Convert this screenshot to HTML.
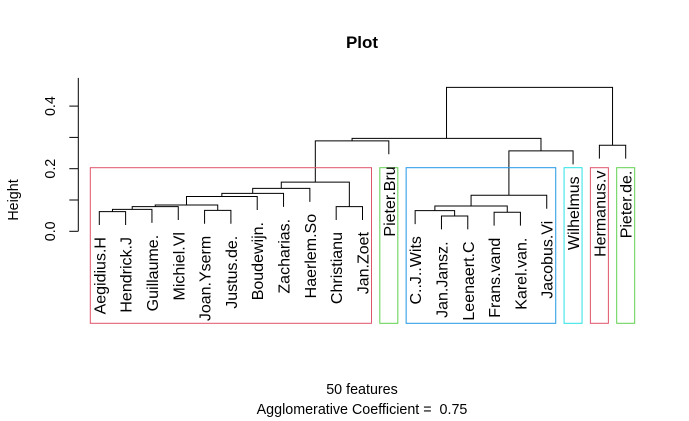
<!DOCTYPE html>
<html><head><meta charset="utf-8"><style>
html,body{margin:0;padding:0;background:#fff;}
svg{display:block;font-family:"Liberation Sans",Arial,sans-serif;}
</style></head><body>
<svg id="chart" width="689" height="421" viewBox="0 0 689 421">
<text x="362" y="48" text-anchor="middle" font-weight="bold" font-size="17">Plot</text>
<g id="axis"></g>
<text transform="translate(18,200) rotate(-90)" text-anchor="middle" font-size="14.3">Height</text>
<g id="tree"></g>
<g id="boxes"></g>
<g id="labels"></g>
<text x="362" y="394" text-anchor="middle" font-size="14.3">50 features</text>
<text x="362" y="414" text-anchor="middle" font-size="14.3" style="white-space:pre">Agglomerative Coefficient =&#160; 0.75</text>
</svg>
<script>
const leaves = ["Aegidius.H","Hendrick.J","Guillaume.","Michiel.Vl","Joan.Yserm","Justus.de.","Boudewijn.","Zacharias.","Haerlem.So","Christianu","Jan.Zoet","Pieter.Bru","C..J..Wits","Jan.Jansz.","Leenaert.C","Frans.vand","Karel.van.","Jacobus.Vi","Wilhelmus","Hermanus.v","Pieter.de."];
// merges: [left, right, height]; negative = leaf index (-(i+1)), positive = merge number (1-based)
const merges = [
 [-1,-2,0.063],[1,-3,0.070],[2,-4,0.079],[-5,-6,0.067],[3,4,0.084],
 [5,-7,0.111],[6,-8,0.121],[7,-9,0.137],[-10,-11,0.079],[8,9,0.157],
 [10,-12,0.289],[-14,-15,0.049],[-13,12,0.066],[-16,-17,0.061],[13,14,0.081],
 [15,-18,0.115],[16,-19,0.257],[11,17,0.297],[-20,-21,0.275],[18,19,0.460]
];
const clusterStarts = [0,11,12,18,19,20];
const clusterEnds = [10,11,17,18,19,20];
const clusterColors = ["#DF536B","#61D04F","#2297E6","#28E2E5","#DF536B","#61D04F"];
const yTicks = [0,0.1,0.2,0.3,0.4];
const yTickLabels = ["0.0","","0.2","","0.4"];
const hang = 0.043;

const NS="http://www.w3.org/2000/svg";
const xs = i => 99.3 + i*26.32;
const ys = h => 231.3 - 313*h;
function mk(tag, attrs, parent){const e=document.createElementNS(NS,tag);for(const k in attrs)e.setAttribute(k,attrs[k]);parent.appendChild(e);return e;}

const axis=document.getElementById('axis');
const a=mk('line',{x1:78.3,x2:78.3,y1:ys(0),y2:ys(0.49),stroke:'#000'},axis);


yTicks.forEach((t,i)=>{
  const l=mk('line',{x1:69.3,x2:78.3,y1:ys(t),y2:ys(t),stroke:'#000'},axis);
  
  
  if(yTickLabels[i]){
    const tx=mk('text',{transform:`translate(55,${ys(t)}) rotate(-90)`,'text-anchor':'middle','font-size':14.3},axis);
    tx.textContent=yTickLabels[i];
    
    
  }
});

const tree=document.getElementById('tree');
const mx=[], mh=[];
merges.forEach((m,k)=>{
  const h=m[2];
  const pts=m.slice(0,2).map(n=>{
    if(n<0){const i=-n-1;return {x:xs(i),top:h-hang,leaf:i};}
    return {x:mx[n-1],top:mh[n-1]};
  });
  mx.push((pts[0].x+pts[1].x)/2); mh.push(h);
  const d=`M${pts[0].x},${ys(pts[0].top)}V${ys(h)}H${pts[1].x}V${ys(pts[1].top)}`;
  const p=mk('path',{d:d,fill:'none',stroke:'#000','stroke-width':1},tree);
  
  
  pts.forEach(pt=>{ if(pt.leaf!==undefined){
    const t=mk('text',{transform:`translate(${pt.x+6},${ys(pt.top)+12}) rotate(-90)`,'text-anchor':'end','font-size':16},document.getElementById('labels'));
    t.textContent=leaves[pt.leaf];
    
    
  }});
});

const boxes=document.getElementById('boxes');
clusterStarts.forEach((s,i)=>{
  const e=clusterEnds[i];
  const x0=xs(s)-9, x1=xs(e)+9;
  const r=mk('rect',{x:x0,y:167.7,width:x1-x0,height:155.6,fill:'none',stroke:clusterColors[i],'stroke-width':1},boxes);
  
  
});
</script>
</body></html>
